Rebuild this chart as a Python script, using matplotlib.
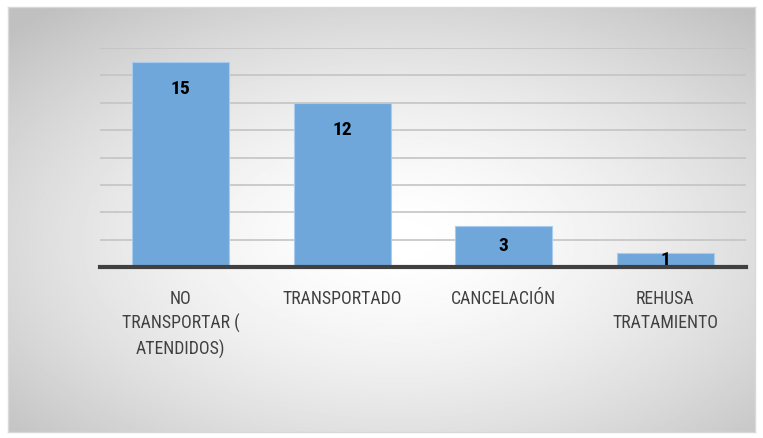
import numpy as np
import matplotlib
matplotlib.use('Agg')
import matplotlib.pyplot as plt

plt.rcParams['font.family'] = ['Roboto Condensed', 'Lato', 'DejaVu Sans']

categories = ['NO\nTRANSPORTAR (\nATENDIDOS)', 'TRANSPORTADO', 'CANCELACIÓN', 'REHUSA\nTRATAMIENTO']
values = [15, 12, 3, 1]
y_max = 16
y_step = 2

W, H = 763, 438
fig = plt.figure(figsize=(W / 100, H / 100), dpi=100)
fig.patch.set_facecolor('white')

# radial gradient background inside the frame
bg = fig.add_axes([8 / W, (H - 432) / H, (755 - 8) / W, (432 - 7) / H])
yy, xx = np.mgrid[0:1:300j, 0:1:500j]
r = np.sqrt(((xx - 0.52) / 0.72) ** 2 + ((yy - 0.55) / 0.72) ** 2)
shade = 1.0 - 0.25 * np.clip(r, 0, 1) ** 1.6
bg.imshow(shade, cmap='gray', vmin=0, vmax=1, aspect='auto', extent=[0, 1, 0, 1])
bg.set_xticks([])
bg.set_yticks([])
for s in bg.spines.values():
    s.set_color('#d9d9d9')
    s.set_linewidth(1)

ax = fig.add_axes([100 / W, (H - 267) / H, (746 - 100) / W, (267 - 48) / H])
ax.patch.set_alpha(0)
x = np.arange(len(values))
ax.set_xlim(-0.5, len(values) - 0.5)
ax.set_ylim(0, y_max)
ax.set_yticks(np.arange(0, y_max + 1, y_step))
ax.yaxis.grid(True, color='#c4c4c4', linewidth=1.2)
ax.set_axisbelow(True)
ax.tick_params(axis='y', left=False, labelleft=False)
ax.tick_params(axis='x', bottom=False, pad=13)
for side in ['top', 'right', 'left']:
    ax.spines[side].set_visible(False)
ax.spines['bottom'].set_color('#404040')
ax.spines['bottom'].set_linewidth(3)

bars = ax.bar(x, values, width=0.6, color='#6fa7db', edgecolor='#a8cbee', linewidth=0.8, zorder=2)
for b, v in zip(bars, values):
    # inside-end label, kept inside short bars
    ax.text(b.get_x() + b.get_width() / 2, max(v - 2, v / 2), str(v),
            ha='center', va='center', fontsize=14, fontweight='bold', color='black', zorder=3)

ax.set_xticks(x)
ax.set_xticklabels(categories, fontsize=12.8, color='#404040', linespacing=1.42, va='top')

fig.savefig('out.png', dpi=100)
